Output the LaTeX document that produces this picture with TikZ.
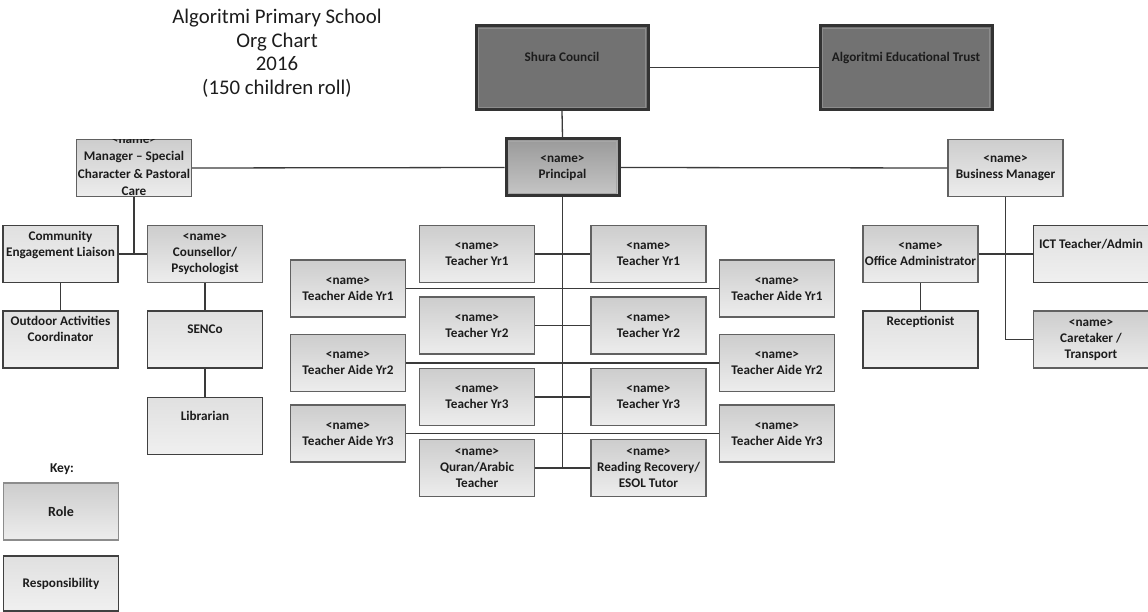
\documentclass[tikz,border=0pt]{standalone}
\usepackage{fontspec}
\setmainfont{Carlito}
\definecolor{roletop}{HTML}{CDCDCD}
\definecolor{rolebot}{HTML}{EDEDED}
\definecolor{resptop}{HTML}{E0E0E0}
\definecolor{respbot}{HTML}{F0F0F0}
\definecolor{darkfill}{HTML}{727272}
\definecolor{printop}{HTML}{9A9A9A}
\definecolor{prinbot}{HTML}{C6C6C6}
\definecolor{linkcol}{HTML}{3A3A3A}
\definecolor{txtcol}{HTML}{1C1C1C}
\tikzset{
  box/.style={rectangle, minimum width=115pt, minimum height=57pt, inner sep=0pt,
    align=center, text=txtcol, font=\bfseries\fontsize{13.2}{16}\selectfont},
  role/.style={box, draw=black!62, line width=1.2pt, top color=roletop, bottom color=rolebot},
  resp/.style={box, draw=black!75, line width=1.4pt, top color=resptop, bottom color=respbot},
  darkbox/.style={box, minimum width=172pt, minimum height=84pt, draw=black!80,
    line width=3pt, fill=darkfill},
  prinbox/.style={box, minimum width=113pt, minimum height=57pt, draw=black!80,
    line width=3pt, top color=printop, bottom color=prinbot},
  innerline/.style={draw=black!45, line width=0.8pt},
  link/.style={draw=linkcol, line width=1.3pt},
  plain/.style={inner sep=0pt, align=center, text=txtcol},
}
\begin{document}
\begin{tikzpicture}[x=1pt,y=-1pt]
\useasboundingbox (0,0) rectangle (1148,612);

% title
\node[plain, font=\fontsize{20.8}{23.5}\selectfont] (title) at (277,53)
  {Algoritmi Primary School\\Org Chart\\2016\\(150 children roll)};

% top
\node[darkbox] (shura) at (562,67.5) {Shura Council\\\strut};
\node[darkbox] (trust) at (906,67.5) {Algoritmi Educational Trust\\\strut};
\node[prinbox] (principal) at (562.5,167.5) {<name>\\Principal};
\draw[innerline] ([shift={(4pt,4pt)}]shura.south west) rectangle ([shift={(-4pt,-4pt)}]shura.north east);
\draw[innerline] ([shift={(4pt,4pt)}]trust.south west) rectangle ([shift={(-4pt,-4pt)}]trust.north east);
\draw[innerline, draw=black!35] ([shift={(4pt,4pt)}]principal.south west) rectangle ([shift={(-4pt,-4pt)}]principal.north east);

% left branch
\node[role] (manager) at (134,168) {};
\begin{scope}
  \clip ([shift={(1pt,1pt)}]manager.south west) rectangle ([shift={(-1pt,-1pt)}]manager.north east);
  \node[box, font=\bfseries\fontsize{13.2}{17.5}\selectfont] (managertext) at (134,166)
    {<name>\\Manager – Special\\Character \& Pastoral\\Care};
\end{scope}
\node[resp] (community) at (60.5,254) {Community\\Engagement Liaison\\\strut};
\node[role] (counsellor) at (205,254) {<name>\\Counsellor/\\Psychologist};
\node[resp] (outdoor) at (60.5,339.5) {Outdoor Activities\\Coordinator\\\strut};
\node[resp] (senco) at (205,339.5) {SENCo\\\strut};
\node[resp] (librarian) at (205,426) {Librarian\\\strut};

% right branch
\node[role] (bm) at (1005.5,168) {<name>\\Business Manager};
\node[role] (oa) at (920.5,254) {<name>\\Office Administrator};
\node[resp] (ict) at (1091,254) {ICT Teacher/Admin\\\strut};
\node[resp] (recep) at (920.5,339.5) {Receptionist\\\strut\\\strut};
\node[role] (caretaker) at (1091,339.5) {<name>\\Caretaker /\\Transport};

% teachers
\node[role] (t1l) at (477,254) {<name>\\Teacher Yr1};
\node[role] (t1r) at (648.5,254) {<name>\\Teacher Yr1};
\node[role] (a1l) at (348,288.5) {<name>\\Teacher Aide Yr1};
\node[role] (a1r) at (777,288.5) {<name>\\Teacher Aide Yr1};
\node[role] (t2l) at (477,325.5) {<name>\\Teacher Yr2};
\node[role] (t2r) at (648.5,325.5) {<name>\\Teacher Yr2};
\node[role] (a2l) at (348,363) {<name>\\Teacher Aide Yr2};
\node[role] (a2r) at (777,363) {<name>\\Teacher Aide Yr2};
\node[role] (t3l) at (477,397) {<name>\\Teacher Yr3};
\node[role] (t3r) at (648.5,397) {<name>\\Teacher Yr3};
\node[role] (a3l) at (348,433.5) {<name>\\Teacher Aide Yr3};
\node[role] (a3r) at (777,433.5) {<name>\\Teacher Aide Yr3};
\node[role] (quran) at (477,468) {<name>\\Quran/Arabic\\Teacher};
\node[role] (reading) at (648.5,468) {<name>\\Reading Recovery/\\ESOL Tutor};

% key
\node[plain, font=\bfseries\fontsize{13.5}{16}\selectfont] (keytitle) at (62,469) {Key:};
\node[role, draw=black!45, font=\bfseries\fontsize{14}{16}\selectfont] (keyrole) at (61,511.5) {Role};
\node[resp, minimum height=55pt] (keyresp) at (61,583.5) {Responsibility};

% connectors
\draw[link] (shura.east) -- (trust.west);
\draw[link] (shura.south) -- (principal.north);
\draw[link] (manager.east) -- (principal.west);
\draw[link] (principal.east) -- (bm.west);
\draw[link] (principal.south) -- (principal.south |- quran.east);
\draw[link] (t1l.east) -- (t1r.west);
\draw[link] (a1l.east) -- (a1r.west);
\draw[link] (t2l.east) -- (t2r.west);
\draw[link] (a2l.east) -- (a2r.west);
\draw[link] (t3l.east) -- (t3r.west);
\draw[link] (a3l.east) -- (a3r.west);
\draw[link] (quran.east) -- (reading.west);
\draw[link] (manager.south) -- (manager.south |- community.east);
\draw[link] (community.east) -- (counsellor.west);
\draw[link] (community.south) -- (outdoor.north);
\draw[link] (counsellor.south) -- (senco.north);
\draw[link] (senco.south) -- (librarian.north);
\draw[link] (bm.south) |- (caretaker.west);
\draw[link] (oa.east) -- (ict.west);
\draw[link] (oa.south) -- (recep.north);
\end{tikzpicture}
\end{document}
